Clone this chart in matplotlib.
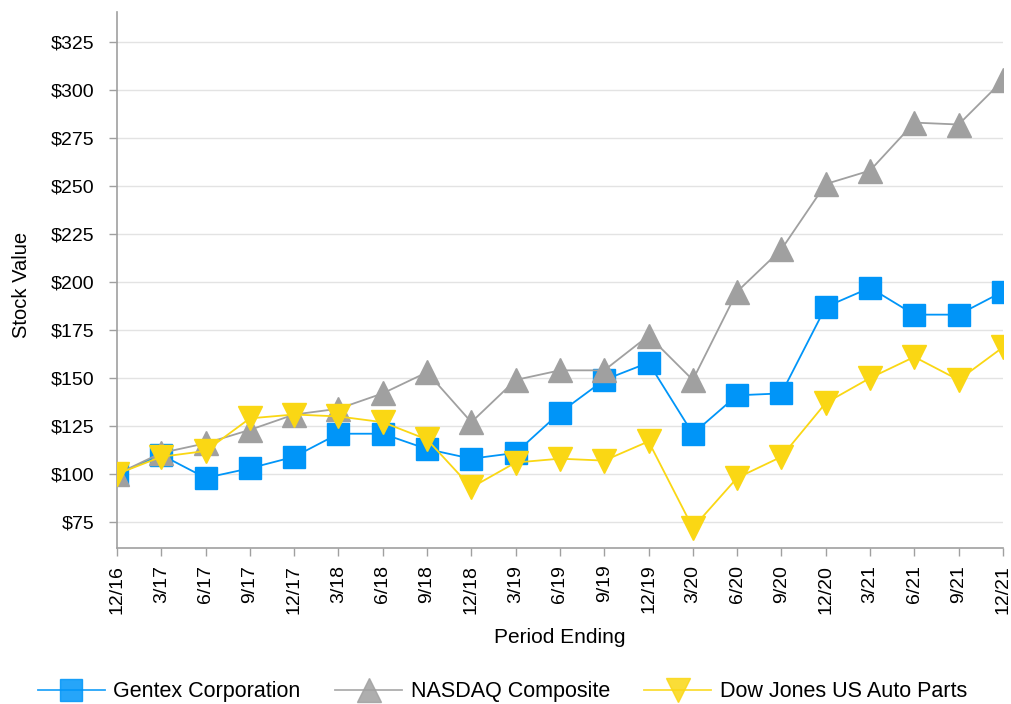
import matplotlib
matplotlib.use('Agg')
import matplotlib.pyplot as plt

periods = ['12/16', '3/17', '6/17', '9/17', '12/17', '3/18', '6/18', '9/18', '12/18', '3/19',
           '6/19', '9/19', '12/19', '3/20', '6/20', '9/20', '12/20', '3/21', '6/21', '9/21', '12/21']
gentex = [100, 110, 98, 103, 109, 121, 121, 113, 108, 111,
          132, 149, 158, 121, 141, 142, 187, 197, 183, 183, 195]
nasdaq = [100, 111, 116, 123, 131, 134, 142, 153, 127, 149,
          154, 154, 172, 149, 195, 217, 251, 258, 283, 282, 305]
dj_auto = [100, 109, 112, 129, 131, 130, 127, 118, 93, 106,
           108, 107, 117, 72, 98, 109, 137, 150, 161, 149, 166]
yticks = [75, 100, 125, 150, 175, 200, 225, 250, 275, 300, 325]

plt.rcParams['font.family'] = ['Liberation Sans', 'DejaVu Sans']

fig = plt.figure(figsize=(10.11, 7.04), dpi=100)
ax = fig.add_axes([0.1157, 0.2216, 0.8763, 0.7614])

x = list(range(len(periods)))
ax.plot(x, gentex, color='#0095F8', lw=1.3, marker='s', ms=16.5,
        label='Gentex Corporation', zorder=3)
ax.plot(x, nasdaq, color='#A0A0A0', lw=1.3, marker='^', ms=17,
        label='NASDAQ Composite', zorder=4)
ax.plot(x, dj_auto, color='#FAD714', lw=1.3, marker='v', ms=17,
        label='Dow Jones US Auto Parts', zorder=5)

ax.set_xlim(0, len(periods) - 1)
ax.set_ylim(61.5, 340.6)
ax.set_xticks(x)
ax.set_xticklabels(periods, rotation=90, fontsize=14)
ax.set_yticks(yticks)
ax.set_yticklabels(['$%d' % v for v in yticks], fontsize=14)
ax.tick_params(axis='both', length=6, width=1, color='#A0A0A0')
ax.tick_params(axis='y', pad=10)
ax.tick_params(axis='x', pad=6)
ax.grid(axis='y', color='#E3E3E3', lw=1)
ax.set_axisbelow(True)
for s in ['top', 'right']:
    ax.spines[s].set_visible(False)
for s in ['left', 'bottom']:
    ax.spines[s].set_color('#A0A0A0')
    ax.spines[s].set_linewidth(1.2)

ax.set_ylabel('Stock Value', fontsize=14.5)
ax.yaxis.set_label_coords(-0.097, 0.49)
ax.set_xlabel('Period Ending', fontsize=15)
ax.xaxis.set_label_coords(0.5, -0.149)

leg = fig.legend(loc='lower center', bbox_to_anchor=(0.497, -0.025), ncol=3, frameon=False,
                 fontsize=15.5, handlelength=3.1, handletextpad=0.4, columnspacing=1.6)
for h in leg.legend_handles:
    h.set_alpha(0.85)

fig.savefig('out.png', dpi=100)
